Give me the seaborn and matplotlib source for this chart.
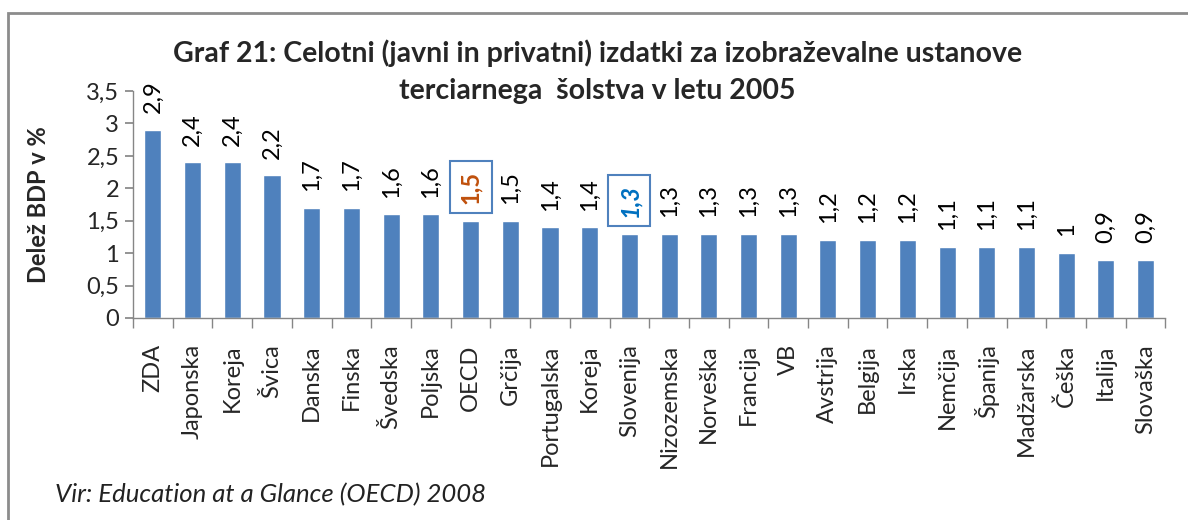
import numpy as np
import pandas as pd
import matplotlib
matplotlib.use('Agg')
import matplotlib.pyplot as plt
from matplotlib.patches import Rectangle
from matplotlib.ticker import FixedLocator
import seaborn as sns

# data
countries = ['ZDA', 'Japonska', 'Koreja', 'Švica', 'Danska', 'Finska', 'Švedska',
             'Poljska', 'OECD', 'Grčija', 'Portugalska', 'Koreja', 'Slovenija',
             'Nizozemska', 'Norveška', 'Francija', 'VB', 'Avstrija', 'Belgija',
             'Irska', 'Nemčija', 'Španija', 'Madžarska', 'Češka', 'Italija', 'Slovaška']
shares = [2.9, 2.4, 2.4, 2.2, 1.7, 1.7, 1.6, 1.6, 1.5, 1.5, 1.4, 1.4, 1.3,
          1.3, 1.3, 1.3, 1.3, 1.2, 1.2, 1.2, 1.1, 1.1, 1.1, 1.0, 0.9, 0.9]
y_ticks = [0, 0.5, 1, 1.5, 2, 2.5, 3, 3.5]

def comma(v):
    s = f'{v:g}'
    return s.replace('.', ',')

df = pd.DataFrame({'pos': np.arange(len(countries)), 'share': shares})

sns.set_theme(style='white')
plt.rcParams['font.family'] = ['Lato', 'DejaVu Sans']

fig = plt.figure(figsize=(11.88, 5.2), dpi=100)
ax = fig.add_axes([0.112, 0.3885, 0.869, 0.4365])

sns.barplot(data=df, x='pos', y='share', color='#4F81BD', saturation=1,
            width=0.43, ax=ax)
ax.set_xlim(-0.5, len(countries) - 0.5)
ax.set_ylim(0, 3.5)

# value labels above bars
labels = ax.bar_label(ax.containers[0], labels=[comma(v) for v in shares],
                      rotation=90, padding=12, fontsize=17, color='black')
hl = {8: ('#C0500C', 'normal'), 12: ('#0070C0', 'italic')}
for i, (col, style) in hl.items():
    t = labels[i]
    t.set_color(col)
    t.set_fontweight('bold')
    t.set_fontstyle(style)
    t.set_bbox(dict(boxstyle='square,pad=0.4', fc='white', ec='#4F81BD', lw=1.5))

# axes styling
for side in ['top', 'right']:
    ax.spines[side].set_visible(False)
for side in ['left', 'bottom']:
    ax.spines[side].set_color('#868686')
    ax.spines[side].set_linewidth(1)

ax.set_yticks(y_ticks)
ax.set_yticklabels([comma(v) for v in y_ticks], fontsize=17)
ax.tick_params(axis='y', direction='out', length=6, color='#868686', pad=4, left=True)

ax.set_xticks(np.arange(len(countries)))
ax.set_xticklabels(countries, rotation=90, fontsize=17)
ax.tick_params(axis='x', which='major', length=0, pad=19)
ax.xaxis.set_minor_locator(FixedLocator(np.arange(-0.5, len(countries), 1)))
ax.tick_params(axis='x', which='minor', direction='out', length=7,
               color='#868686', bottom=True)

ax.set_xlabel('')
ax.set_ylabel('Delež BDP v %', fontsize=17, fontweight='bold')
ax.yaxis.set_label_coords(-0.08, 0.5)

fig.text(0.503, 0.862, 'Graf 21: Celotni (javni in privatni) izdatki za izobraževalne ustanove\n'
         'terciarnega  šolstva v letu 2005', ha='center', va='center',
         fontsize=20.5, fontweight='bold', linespacing=1.5)
fig.text(0.046, 0.048, 'Vir: Education at a Glance (OECD) 2008', ha='left', va='center',
         fontsize=18.5, fontstyle='italic', color='#222222')

# chart frame (only top and left edges visible in the crop)
fig.patches.append(Rectangle((0.0067, -0.1), 1.2, 1.075, transform=fig.transFigure,
                             fill=False, ec='#8C8C8C', lw=2))

fig.savefig('out.png', dpi=100)
